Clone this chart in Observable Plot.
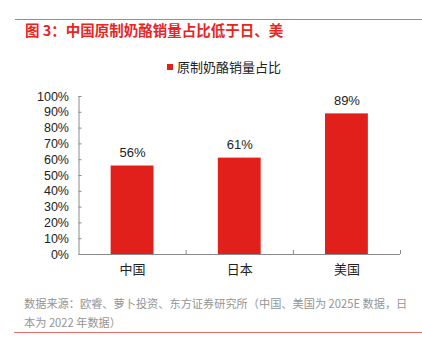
<!DOCTYPE html>
<html>
<head>
<meta charset="utf-8">
<script src="https://cdn.jsdelivr.net/npm/d3@7"></script>
<script src="https://cdn.jsdelivr.net/npm/@observablehq/plot@0.6"></script>
<style>
  html, body { margin: 0; padding: 0; background: #fff; }
  body { width: 422px; height: 356px; position: relative; overflow: hidden;
         font-family: "Liberation Sans", "Noto Sans CJK SC", sans-serif; }
  .rule { position: absolute; left: 15px; right: 0; height: 0; border-top: 1.5px solid #ec6b6b; }
  #title { position: absolute; left: 25px; top: 21px; font-size: 14.5px; font-weight: bold;
           color: #e8251f; font-family: "Noto Sans CJK SC", sans-serif; white-space: nowrap; line-height: 18px; }
  #legend { position: absolute; left: 167px; top: 58px; font-size: 13px; color: #222; white-space: nowrap;
            font-family: "Noto Sans CJK SC", sans-serif; line-height: 18px; display: flex; align-items: center; }
  #legend span.sw { display: inline-block; width: 6px; height: 6px; background: #e2201b; margin-right: 4px; }
  #chart { position: absolute; left: 0; top: 80px; }
  #source { position: absolute; left: 24px; top: 294px; width: 392px; font-size: 11.2px; color: #959595;
            line-height: 19px; font-family: "Noto Sans CJK SC", sans-serif; white-space: nowrap; }
</style>
</head>
<body>
<div class="rule" style="top:18.5px"></div>
<div id="title">图 3：中国原制奶酪销量占比低于日、美</div>
<div id="legend"><span class="sw"></span>原制奶酪销量占比</div>
<div id="chart"></div>
<div id="source">数据来源：欧睿、萝卜投资、东方证券研究所（中国、美国为 2025E 数据，日<br>本为 2022 年数据）</div>
<div class="rule" style="top:331.5px; left:14px"></div>
<script>
const countries = ["中国", "日本", "美国"];
const shares = [0.56, 0.61, 0.89];
const yTicks = [0, 0.1, 0.2, 0.3, 0.4, 0.5, 0.6, 0.7, 0.8, 0.9, 1.0];

const data = countries.map((c, i) => ({country: c, index: i, share: shares[i]}));
const boundaries = d3.range(1, countries.length + 1);
const centers = countries.map((c, i) => i + 0.5);

const barColor = "#e2201b";
const axisColor = "#8a8a8a";

const chart = Plot.plot({
  width: 422,
  height: 204,
  marginTop: 16,
  marginBottom: 30,
  marginLeft: 78.5,
  marginRight: 22,
  style: {fontFamily: "'Liberation Sans', 'Noto Sans CJK SC', sans-serif", fontSize: "13px", color: "#222", background: "transparent"},
  x: {type: "linear", domain: [0, countries.length], axis: null},
  y: {domain: [0, 1], axis: null},
  marks: [
    Plot.rectY(data, {x1: d => d.index + 0.3, x2: d => d.index + 0.7, y1: 0, y2: "share", fill: barColor}),
    Plot.text(data, {x: d => d.index + 0.5, y: "share", text: d => Math.round(d.share * 100) + "%", dy: -13, fill: "#222", fontSize: 13}),
    Plot.ruleY([0], {stroke: axisColor, strokeWidth: 1}),
    Plot.ruleX([0], {stroke: axisColor, strokeWidth: 1}),
    Plot.axisY({ticks: yTicks, tickSize: 0, tickPadding: 10, label: null, tickFormat: d => Math.round(d * 100) + "%", fontSize: 12.5, fill: "#222"}),
    Plot.axisY({ticks: yTicks, tickSize: 3, dx: 3, label: null, tickFormat: () => "", stroke: axisColor}),
    Plot.axisX({ticks: boundaries, tickSize: 4, dy: -4, label: null, tickFormat: () => "", stroke: axisColor}),
    Plot.axisX({ticks: centers, tickSize: 0, tickPadding: 10, label: null, tickFormat: (d) => countries[Math.floor(d)], fontSize: 13, fill: "#222", fontFamily: "'Noto Sans CJK SC', sans-serif"})
  ]
});
document.getElementById("chart").appendChild(chart);
</script>
</body>
</html>
